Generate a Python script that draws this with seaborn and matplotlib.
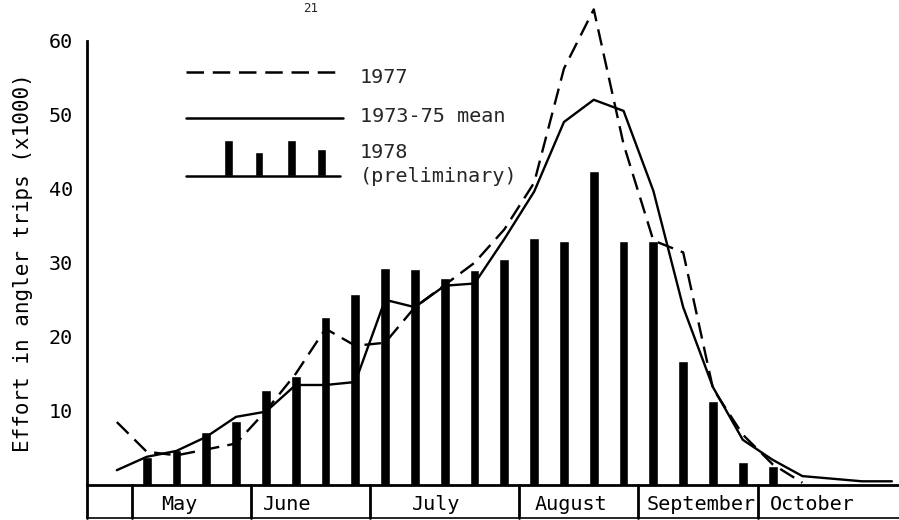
import numpy as np
import pandas as pd
import matplotlib
matplotlib.use("Agg")
import matplotlib.pyplot as plt
import seaborn as sns

# ---------------- data ----------------
weeks_mean = list(range(0, 27))
effort_mean_7375 = [2.0, 3.8, 4.6, 6.5, 9.2, 9.9, 13.5, 13.5, 13.9, 25.0,
                    24.0, 26.9, 27.2, 33.2, 39.6, 49.0, 52.0, 50.5, 39.7, 24.0,
                    13.2, 6.1, 3.4, 1.2, 0.85, 0.5, 0.5]

weeks_1977 = list(range(0, 24))
effort_1977 = [8.5, 4.5, 4.0, 4.8, 5.6, 10.0, 15.0, 21.1, 18.8, 19.2,
               24.0, 27.0, 30.0, 34.5, 40.8, 56.2, 64.2, 46.0, 33.0, 31.4,
               13.0, 6.8, 2.8, 0.3]

weeks_1978 = list(range(1, 23))
effort_1978 = [3.8, 4.7, 7.2, 8.7, 12.8, 14.7, 22.7, 25.8, 29.3, 29.2,
               28.0, 29.0, 30.5, 33.4, 33.0, 42.4, 32.9, 33.0, 16.8, 11.4,
               3.1, 2.6]

months = ["May", "June", "July", "August", "September", "October"]
month_starts = [0.5, 4.5, 8.5, 13.5, 17.5, 21.5]
y_ticks = [10, 20, 30, 40, 50, 60]
y_label = "Effort in angler trips (x1000)"
legend_labels = ["1977", "1973-75 mean", "1978", "(preliminary)"]

# ---------------- style ----------------
sns.set_theme(style="white")
plt.rcParams["font.family"] = ["DejaVu Sans Mono"]
FS = 14

W, H = 899, 520
fig = plt.figure(figsize=(W / 100, H / 100), dpi=100)
fig.patch.set_facecolor("white")
ax = fig.add_axes([87 / W, 35 / H, (W - 87) / W, (485 - 40.5) / H])
ax.set_facecolor("white")

# bars (1978 preliminary)
df78 = pd.DataFrame({"week": weeks_1978, "effort": effort_1978})
sns.barplot(data=df78, x="week", y="effort", native_scale=True, width=0.33,
            color="black", saturation=1, errorbar=None, ax=ax, zorder=2)

# 1973-75 mean (solid)
dfm = pd.DataFrame({"week": weeks_mean, "effort": effort_mean_7375})
sns.lineplot(data=dfm, x="week", y="effort", color="black", lw=1.7, ax=ax,
             zorder=3, clip_on=False)

# 1977 (dashed)
df77 = pd.DataFrame({"week": weeks_1977, "effort": effort_1977})
sns.lineplot(data=df77, x="week", y="effort", color="black", lw=1.7,
             linestyle=(0, (7, 3.5)), ax=ax, zorder=3, clip_on=False)

ax.set_xlim(-1.0, 26.24)
ax.set_ylim(0, 60)
ax.set_xticks([])
ax.set_yticks(y_ticks)
ax.set_yticklabels([str(v) for v in y_ticks], fontsize=FS + 0.5)
ax.tick_params(axis="y", direction="in", length=7, width=2, pad=10, colors="black")
ax.set_xlabel("")
ax.set_ylabel(y_label, fontsize=FS + 1, color="black")
ax.yaxis.set_label_coords(-0.066, 0.5)
for s in ["top", "right"]:
    ax.spines[s].set_visible(False)
for s in ["left", "bottom"]:
    ax.spines[s].set_color("black")
    ax.spines[s].set_linewidth(2)

# ---------------- month box below the axis ----------------
xt = ax.get_xaxis_transform()
box_bottom = -(518 - 485) / (485 - 40.5)
text_y = -(505 - 485) / (485 - 40.5)
ax.plot([-1.0, -1.0], [0, box_bottom], transform=xt, color="black", lw=2, clip_on=False)
ax.plot([-1.0, 26.24], [box_bottom, box_bottom], transform=xt, color="black", lw=1.2, clip_on=False)
label_x = [1.5, 4.89, 9.89, 14.03, 17.77, 21.91]
for m, xs, lx in zip(months, month_starts, label_x):
    ax.plot([xs, xs], [0, box_bottom], transform=xt, color="black", lw=2, clip_on=False)
    ax.text(lx, text_y, m, transform=xt, ha="left", va="center", fontsize=FS + 0.5, color="black")

# ---------------- hand-drawn legend ----------------
lx0, lx1, tx = 2.32, 7.58, 8.15
ax.plot([lx0, lx1], [55.7, 55.7], color="black", lw=1.8, linestyle=(0, (7, 3.5)))
ax.plot([lx0, lx1], [49.5, 49.5], color="black", lw=1.8)
ax.plot([lx0, 7.48], [41.7, 41.7], color="black", lw=1.8)
ax.bar([3.76, 4.77, 5.87, 6.88], [4.9, 3.3, 4.9, 3.6], bottom=41.7, width=0.3, color="black")
ax.text(tx, 55.0, legend_labels[0], fontsize=FS + 0.5, va="center", ha="left")
ax.text(tx, 49.7, legend_labels[1], fontsize=FS + 0.5, va="center", ha="left")
ax.text(tx, 44.9, legend_labels[2], fontsize=FS + 0.5, va="center", ha="left")
ax.text(tx, 41.6, legend_labels[3], fontsize=FS + 0.5, va="center", ha="left")

# page number at the top of the scan (kept fully inside the canvas)
fig.text(311 / W, 1 - 2 / H, "21", ha="center", va="top", fontsize=9)

fig.savefig("out.png", dpi=100, facecolor="white")
